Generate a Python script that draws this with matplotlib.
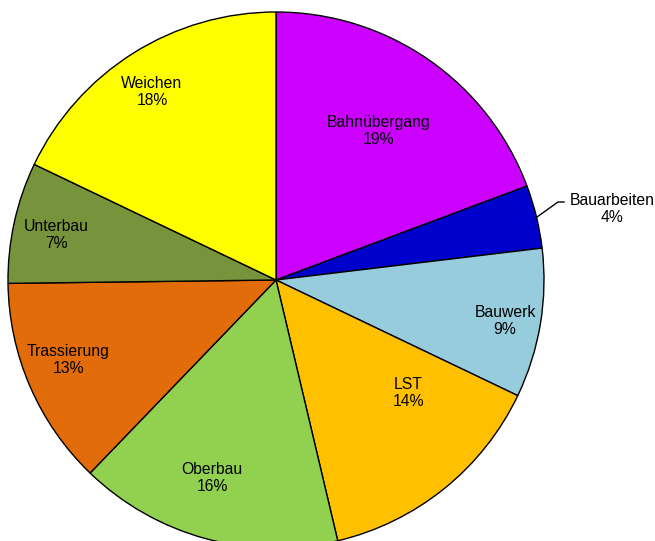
import matplotlib.pyplot as plt
import numpy as np

plt.rcParams['font.family'] = ['Liberation Sans', 'DejaVu Sans']

# data (shares, percent)
categories = ['Bahnübergang', 'Bauarbeiten', 'Bauwerk', 'LST', 'Oberbau',
              'Trassierung', 'Unterbau', 'Weichen']
shares = [19.3, 3.8, 9.0, 14.2, 15.9, 12.6, 7.3, 17.9]
colors = ['#CC00FF', '#0000CC', '#96CCDC', '#FFC000', '#92D050',
          '#E36C0A', '#77933C', '#FFFF00']

# label positions in pixel space (x, y from top)
label_pos = [(379, 131), (612, 209), (505, 321), (408, 393), (212, 478),
             (68, 360), (56, 235), (152, 92)]

W, H = 655, 541
fig = plt.figure(figsize=(6.55, 5.41), dpi=100)
ax = fig.add_axes([0, 0, 1, 1])

cx, cy, r = 276, 280, 268
ax.pie(shares, colors=colors, startangle=90, counterclock=False,
       center=(cx, H - cy), radius=r, frame=True,
       wedgeprops=dict(edgecolor='black', linewidth=1))
ax.set_xlim(0, W)
ax.set_ylim(0, H)
ax.axis('off')

for name, val, (x, y) in zip(categories, shares, label_pos):
    ax.text(x, H - y, f'{name}\n{round(val):d}%', ha='center', va='center',
            fontsize=11.3, linespacing=1.15)

# leader line for the small slice
ax.plot([537, 558, 564], [H - 217, H - 202, H - 202], color='black', linewidth=1)

plt.savefig('out.png', dpi=100)
